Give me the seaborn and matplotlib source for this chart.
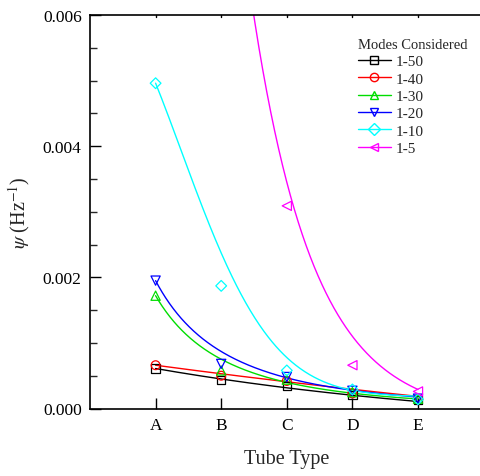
import numpy as np
import pandas as pd
import matplotlib
matplotlib.use("Agg")
import matplotlib.pyplot as plt
from matplotlib.lines import Line2D
from matplotlib.ticker import MultipleLocator, FormatStrFormatter
import seaborn as sns

tubes = ["A", "B", "C", "D", "E"]
modes = ["1-50", "1-40", "1-30", "1-20", "1-10", "1-5"]

# measured psi (Hz^-1) per tube type
psi_1_50 = [0.00061, 0.00043, 0.00034, 0.00021, 0.00013]
psi_1_40 = [0.00066, 0.00050, 0.00042, 0.00023, 0.00014]
psi_1_30 = [0.00172, 0.00058, 0.00044, 0.00025, 0.00015]
psi_1_20 = [0.00195, 0.00068, 0.00048, 0.00027, 0.00015]
psi_1_10 = [0.00496, 0.00187, 0.00058, 0.00029, 0.00014]
psi_1_5 = [0.0300, 0.0104, 0.00309, 0.00066, 0.00026]
series = [psi_1_50, psi_1_40, psi_1_30, psi_1_20, psi_1_10, psi_1_5]

# decay-fit coefficients: psi = y0 + a * exp(-k * x ** p), x = 1 (A) ... 5 (E)
fit_y0 = [-0.0004, -0.0015, 0.0, 0.0, 0.00018, -0.000136]
fit_a = [0.0012, 0.002298, 0.01271, 0.0137, 0.0062, 0.08755]
fit_k = [0.1725, 0.0621, 2.0, 1.95, 0.26, 1.065]
fit_p = [1.0, 1.0, 0.5, 0.5, 2.0, 1.0]

colors = ["#000000", "#ff0000", "#00dd00", "#0000ff", "#00ffff", "#ff00ff"]
markers = ["s", "o", "^", "v", "D", "<"]
msizes = [36, 40, 44, 44, 30, 44]

sns.set_theme(style="white")
plt.rcParams["font.family"] = ["Liberation Serif", "DejaVu Serif"]
plt.rcParams["mathtext.fontset"] = "stix"

x_pos = np.arange(1, len(tubes) + 1, dtype=float)
xf = np.linspace(1, 5, 400)

rows, fit_rows = [], []
for i, (m, vals) in enumerate(zip(modes, series)):
    for xi, yi in zip(x_pos, vals):
        rows.append({"x": xi, "psi": yi, "modes": m})
    yf = fit_y0[i] + fit_a[i] * np.exp(-fit_k[i] * xf ** fit_p[i])
    for xi, yi in zip(xf, yf):
        fit_rows.append({"x": xi, "psi": yi, "modes": m})
pts = pd.DataFrame(rows)
fits = pd.DataFrame(fit_rows)

fig = plt.figure(figsize=(4.81, 4.77), dpi=100)
unit = 65.6  # pixels per category step
ax = fig.add_axes([90 / 481, 67.5 / 477, 6 * unit / 481, 393.5 / 477])

for m, c, mk, s in zip(modes, colors, markers, msizes):
    sns.lineplot(data=fits[fits.modes == m], x="x", y="psi", color=c,
                 linewidth=1.0, ax=ax, legend=False)
    sns.scatterplot(data=pts[pts.modes == m], x="x", y="psi", marker=mk, s=s,
                    facecolor="none", edgecolor=c, linewidth=0.9, ax=ax,
                    legend=False, zorder=3)

ax.set_xlim(0, 6)
ax.set_ylim(0, 0.006)
ax.set_xticks(x_pos)
ax.set_xticklabels(tubes)
ax.yaxis.set_major_locator(MultipleLocator(0.002))
ax.yaxis.set_minor_locator(MultipleLocator(0.0005))
ax.yaxis.set_major_formatter(FormatStrFormatter("%.3f"))
ax.tick_params(axis="both", which="major", direction="in", length=8, width=1,
               labelsize=12.5, colors="black", pad=6)
ax.tick_params(axis="y", which="minor", direction="in", length=5, width=1)
ax.tick_params(axis="x", which="both", bottom=True, top=False)
ax.tick_params(axis="y", which="both", left=True, right=False)
for x in x_pos:
    ax.plot([x, x], [0.006, 0.00597], color="black", linewidth=1,
            clip_on=False)
for side in ["left", "bottom", "top", "right"]:
    ax.spines[side].set_color("black")
    ax.spines[side].set_linewidth(1.2)

ax.set_xlabel("Tube Type", fontsize=14.5, labelpad=12)
ax.set_ylabel(r"$\psi$ (Hz$^{-1}$)", fontsize=14.5, labelpad=8)

handles = [Line2D([], [], color=c, marker=mk, markersize=6, markerfacecolor="none",
                  markeredgecolor=c, linewidth=1.0, label=m)
           for m, c, mk in zip(modes, colors, markers)]
leg = ax.legend(handles=handles, title="Modes Considered", loc="upper left",
                bbox_to_anchor=(0.645, 0.977), frameon=False, fontsize=11,
                title_fontsize=10.5, handlelength=2.2, labelspacing=0.24,
                handletextpad=0.3, alignment="left")

fig.savefig("out.png", dpi=100)
